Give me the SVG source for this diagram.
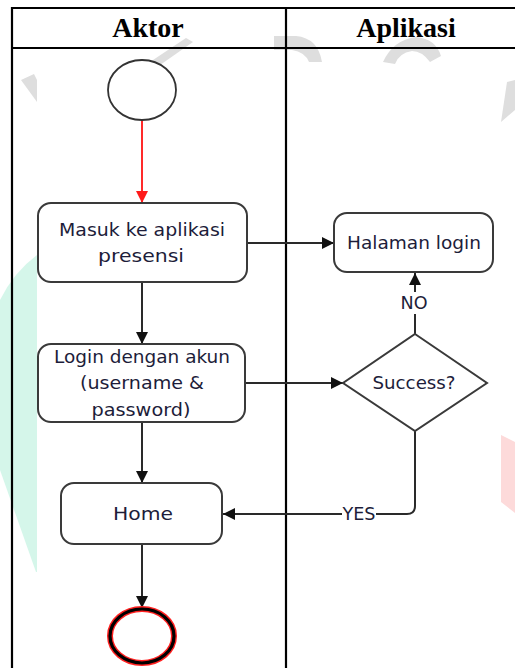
<svg xmlns="http://www.w3.org/2000/svg" width="515" height="668" viewBox="0 0 515 668">
  <defs>
    <marker id="arrow" viewBox="0 0 12 12" refX="12" refY="6" markerWidth="12" markerHeight="12" markerUnits="userSpaceOnUse" orient="auto">
      <path d="M0,0 L12,6 L0,12 Z" fill="#111"/>
    </marker>
    <marker id="arrow-red" viewBox="0 0 12 12" refX="12" refY="6" markerWidth="12" markerHeight="12" markerUnits="userSpaceOnUse" orient="auto">
      <path d="M0,0 L12,6 L0,12 Z" fill="#ff1a1a"/>
    </marker>
    <style>
      .head { font-family: "Liberation Serif", "Times New Roman", serif; font-weight: bold; font-size: 28px; fill: #000; text-anchor: middle; }
      .lane { stroke: #000; stroke-width: 2.2; fill: none; }
      .box { fill: #fff; stroke: #3a3a3a; stroke-width: 2; }
      .lbl { font-family: "DejaVu Sans", "Liberation Sans", sans-serif; font-size: 17px; fill: #1d1d3a; text-anchor: middle; }
      .edge { stroke: #2a2a2a; stroke-width: 2; fill: none; }
      .mark { fill: #dedede; }
    </style>
  </defs>

  <rect width="515" height="668" fill="#fff"/>

  <!-- faint background watermark -->
  <g id="watermark">
    <polygon class="mark" points="21,80 34,74 37,80 37,102"/>
    <polygon class="mark" points="150,62 186,38 193,42 160,65"/>
    <path class="mark" d="M274,36 H296 Q318,38 322,62 H309 Q305,52 292,50 H274 Z"/>
    <path class="mark" d="M383,62 Q393,40 416,37 Q436,39 441,56 L430,62 Q422,51 412,51 Q399,53 395,64 Z"/>
    <polygon class="mark" points="507,82 515,80 515,110 501,122"/>
    <path d="M37,255 Q14,272 0,300 V470 L36,572 L37,572 Z" fill="#d5f6ea"/>
    <polygon points="501,435 515,442 515,513 501,502" fill="#fddada"/>
  </g>

  <!-- swimlane table -->
  <g id="lanes">
    <line class="lane" x1="11" y1="8" x2="515" y2="8"/>
    <line class="lane" x1="11" y1="48" x2="515" y2="48"/>
    <line class="lane" x1="12" y1="7" x2="12" y2="668"/>
    <line class="lane" x1="286" y1="7" x2="286" y2="668"/>
    <text class="head" x="148" y="37">Aktor</text>
    <text class="head" x="406" y="37">Aplikasi</text>
  </g>

  <!-- connectors -->
  <g id="connectors">
    <line x1="142" y1="120" x2="142" y2="203" stroke="#ff2a2a" stroke-width="2" marker-end="url(#arrow-red)"/>
    <line class="edge" x1="247" y1="243" x2="334" y2="243" marker-end="url(#arrow)"/>
    <line class="edge" x1="142" y1="282" x2="142" y2="344" marker-end="url(#arrow)"/>
    <line class="edge" x1="245" y1="383" x2="343" y2="383" marker-end="url(#arrow)"/>
    <line class="edge" x1="415" y1="334" x2="415" y2="273" marker-end="url(#arrow)"/>
    <rect x="402" y="292" width="26" height="22" fill="#fff"/>
    <text class="lbl" x="414" y="309" textLength="27" lengthAdjust="spacingAndGlyphs">NO</text>
    <line class="edge" x1="142" y1="422" x2="142" y2="483" marker-end="url(#arrow)"/>
    <path class="edge" d="M415,430 V506 Q415,514 407,514 H223" marker-end="url(#arrow)"/>
    <rect x="342" y="504" width="34" height="20" fill="#fff"/>
    <text class="lbl" x="359" y="520" textLength="33" lengthAdjust="spacingAndGlyphs">YES</text>
    <line class="edge" x1="142" y1="544" x2="142" y2="608" marker-end="url(#arrow)"/>
  </g>

  <!-- start node -->
  <g id="start">
    <ellipse cx="142" cy="90" rx="34" ry="30" fill="#fff" stroke="#333" stroke-width="1.8"/>
  </g>

  <g id="masuk">
    <rect class="box" x="38" y="203" width="209" height="79" rx="13"/>
    <text class="lbl" x="142" y="236" textLength="166" lengthAdjust="spacingAndGlyphs">Masuk ke aplikasi</text>
    <text class="lbl" x="141" y="262" textLength="86" lengthAdjust="spacingAndGlyphs">presensi</text>
  </g>

  <g id="halaman-login">
    <rect class="box" x="334" y="213" width="159" height="59" rx="13"/>
    <text class="lbl" x="414" y="249" textLength="134" lengthAdjust="spacingAndGlyphs">Halaman login</text>
  </g>

  <g id="login">
    <rect class="box" x="38" y="344" width="207" height="78" rx="13"/>
    <text class="lbl" x="142" y="363" textLength="176" lengthAdjust="spacingAndGlyphs">Login dengan akun</text>
    <text class="lbl" x="142" y="389" textLength="124" lengthAdjust="spacingAndGlyphs">(username &amp;</text>
    <text class="lbl" x="141" y="416" textLength="99" lengthAdjust="spacingAndGlyphs">password)</text>
  </g>

  <g id="success">
    <polygon class="box" points="415,334 487,383 415,431 343,383"/>
    <text class="lbl" x="414" y="389" textLength="83" lengthAdjust="spacingAndGlyphs">Success?</text>
  </g>

  <g id="home">
    <rect class="box" x="61" y="483" width="161" height="61" rx="13"/>
    <text class="lbl" x="143" y="520" textLength="60" lengthAdjust="spacingAndGlyphs">Home</text>
  </g>

  <!-- end node -->
  <g id="end">
    <ellipse cx="142" cy="636" rx="32" ry="27" fill="#fff" stroke="#ff2020" stroke-width="6"/>
    <ellipse cx="142" cy="636" rx="32" ry="27" fill="none" stroke="#000" stroke-width="3.2"/>
  </g>
</svg>
